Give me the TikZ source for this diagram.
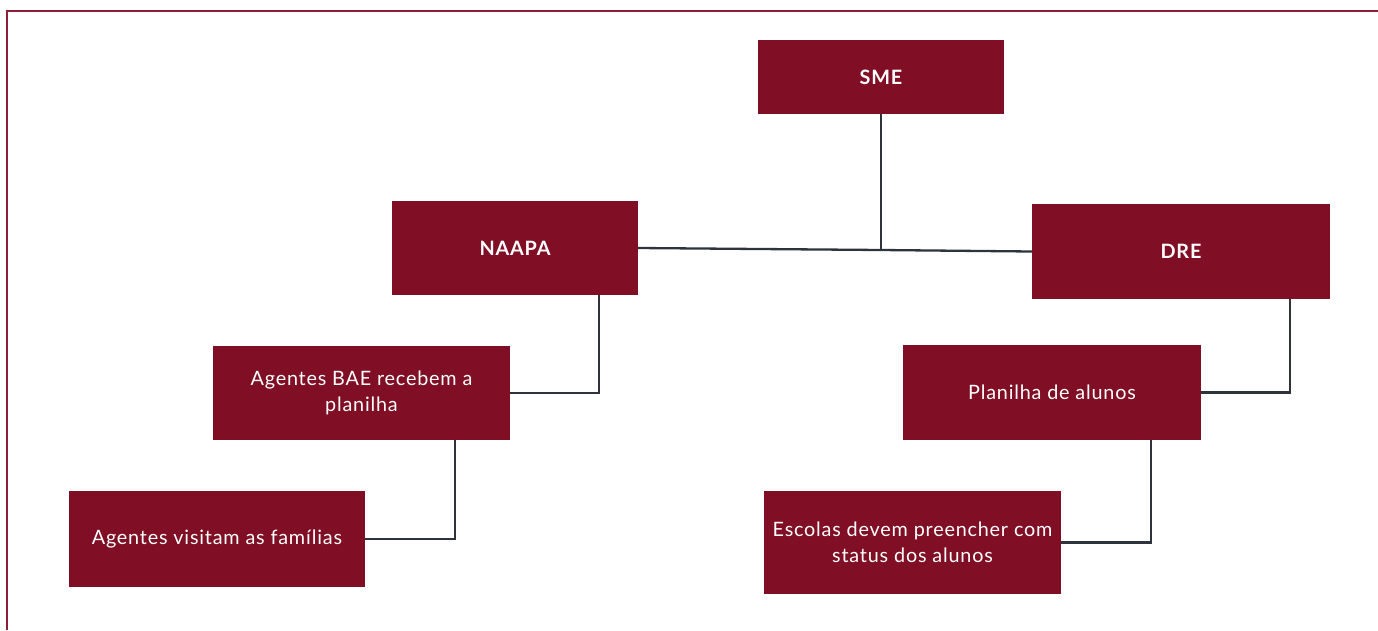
\documentclass[tikz,border=0pt]{standalone}
\usepackage{fontspec}
\setmainfont[LetterSpace=4]{Lato}
\usetikzlibrary{calc}
\definecolor{boxred}{RGB}{128,14,36}
\definecolor{framered}{RGB}{140,30,55}
\definecolor{linegray}{RGB}{45,52,60}
\tikzset{
  box/.style={fill=boxred, draw=none, text=white, align=center, inner sep=0pt, font=\fontsize{19.8}{26.5}\selectfont},
  boldbox/.style={box, font=\fontsize{19.8}{26.5}\selectfont\bfseries},
  conn/.style={draw=linegray, line width=2.3pt},
}
\begin{document}
\begin{tikzpicture}[x=1pt,y=-1pt]
\useasboundingbox (0,0) rectangle (1378,630);
\draw[framered, line width=2.8pt] (7,630) -- (7,11) -- (1378,11);
\node[boldbox, minimum width=246pt, minimum height=74pt] (sme) at (881,77) {SME};
\node[boldbox, minimum width=246pt, minimum height=94pt] (naapa) at (515,248) {NAAPA};
\node[boldbox, minimum width=298pt, minimum height=95pt] (dre) at (1181,251.5) {DRE};
\node[box, minimum width=297pt, minimum height=94pt] (bae) at (361.5,393) {Agentes BAE recebem a\\planilha};
\node[box, minimum width=298pt, minimum height=95pt] (plan) at (1052,392.5) {Planilha de alunos};
\node[box, minimum width=296pt, minimum height=96pt] (visit) at (217,539) {Agentes visitam as famílias};
\node[box, minimum width=297pt, minimum height=103pt] (esc) at (912.5,542.5) {Escolas devem preencher com\\status dos alunos};
\coordinate (j) at (881,250);
\draw[conn] (sme.south) -- (j);
\draw[conn] (naapa.east) -- (j) -- (dre.west);
\draw[conn] ($(naapa.south east)+(-39,0)$) |- (bae.east);
\draw[conn] ($(dre.south east)+(-40,0)$) |- (plan.east);
\draw[conn] ($(bae.south east)+(-55,0)$) |- (visit.east);
\draw[conn] ($(plan.south east)+(-50,0)$) |- (esc.east);
\end{tikzpicture}
\end{document}
